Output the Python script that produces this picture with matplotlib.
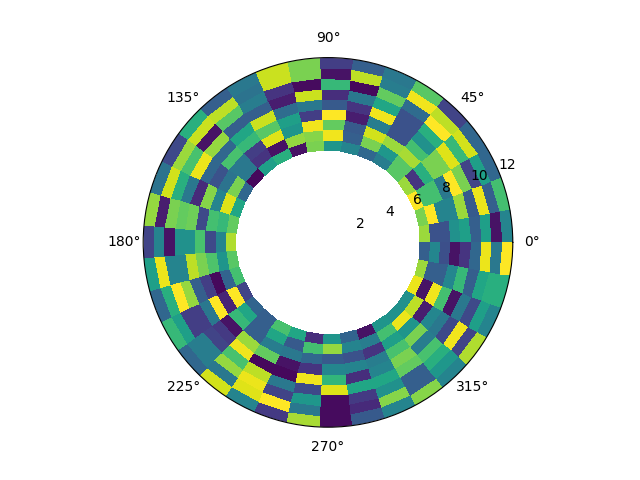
import numpy as np
from matplotlib import pyplot as plt

# one list per angular sector, inner ring first
sector_00_08 = [
    [.85, .25, .25, .50, .56, .30, .56, .05, .45],
    [.80, 1.0, .45, .45, .85, .28, .97, .30, .70],
    [1.0, .70, .70, .40, 1.0, .80, .20, .56, .33],
    [.85, .15, .63, .80, .80, .95, .67, .93, .33],
    [.74, .74, .87, .70, .50, .63, 1.0, .90, .20],
    [.42, .53, .85, .25, .25, .25, .35, .98, .74],
    [.33, .80, .93, .42, .98, .59, .76, .42, .40],
    [.45, .30, .28, .08, .15, .40, .02, .90, .30],
    [.52, .98, .76, 1.0, .28, .13, .67, .05, .18],
]
sector_09_17 = [
    [.80, .82, .98, .18, .40, .92, .03, .80, .80],
    [.05, .84, .52, .56, .35, .08, .15, .92, .92],
    [.63, .05, .95, .74, .92, .30, .42, .38, .40],
    [.56, .15, .18, .67, .59, .30, .74, .90, .30],
    [.02, .40, .40, .71, .33, .84, .05, .92, .63],
    [.33, .80, .38, .25, .33, .97, .71, .85, .22],
    [.59, .95, .45, .82, .12, .40, .63, .93, .38],
    [.76, .67, .70, .22, .78, .76, .80, .08, .84],
    [.88, .45, .22, .71, .50, .50, .05, .45, .20],
]
sector_18_26 = [
    [.74, .52, .72, .80, .90, .45, .45, .97, .56],
    [.70, .32, .02, .18, .30, .84, 1.0, .63, .33],
    [.20, 1.0, .10, 1.0, .40, .18, .18, .56, .67],
    [.32, .59, .67, .05, .17, .20, .42, .42, .33],
    [.30, .30, .30, .85, .98, .71, .84, .40, .93],
    [.71, .59, .42, .76, .02, .90, .97, .95, .45],
    [.59, .28, .40, .05, .02, .40, .20, 1.0, .17],
    [.13, .70, .33, .15, .98, .22, .53, .40, .87],
    [.52, .84, .28, .46, .66, .95, .03, .03, .03],
]
sector_27_34 = [
    [.32, .45, .25, .45, .13, .59, .17, .12, .28],
    [.05, .42, .15, .42, .45, .59, .50, .82, .45],
    [.52, .70, .56, .71, .80, .76, .30, .30, .82],
    [.50, .97, .52, .80, .42, .71, .63, .53, .45],
    [.50, .90, .08, .46, .40, .22, .98, .20, .88],
    [.97, .05, .98, .70, .05, .40, .22, .56, .45],
    [.85, .30, .30, .46, .67, .30, .59, .63, .63],
    [.30, .46, .24, .05, .15, .33, .97, .40, 1.0],
]

values = np.array(sector_00_08 + sector_09_17 + sector_18_26 + sector_27_34).T

theta = np.linspace(0, 2 * np.pi, values.shape[1] + 1)
r = np.linspace(6, 12, values.shape[0] + 1)

fig = plt.figure(figsize=(6.4, 4.8), dpi=100)
ax = fig.add_subplot(111, projection='polar')
ax.pcolormesh(theta, r, values, cmap='viridis', vmin=0, vmax=1)
ax.set_ylim(0, 12)
ax.grid(False)

plt.savefig('out.png', dpi=100)
